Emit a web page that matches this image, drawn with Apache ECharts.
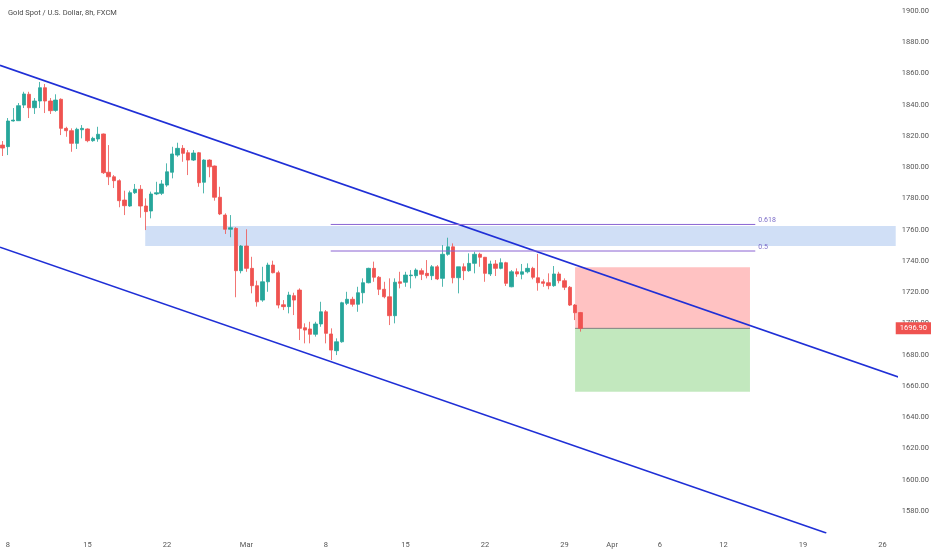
<!DOCTYPE html>
<html>
<head>
<meta charset="utf-8">
<script src="https://cdn.jsdelivr.net/npm/echarts@6/dist/echarts.min.js"></script>
<style>
html,body{margin:0;padding:0;background:#fff;}
#chart{width:932px;height:550px;}
</style>
</head>
<body>
<div id="chart"></div>
<script>
// ---- data ----
const titleText = 'Gold Spot / U.S. Dollar, 8h, FXCM';
const barCount = 169; // 8h bars incl. empty future space
const tickIndex = [1, 16, 31, 46, 61, 76, 91, 106, 115, 124, 136, 151, 166];
const tickText  = ['8', '15', '22', 'Mar', '8', '15', '22', '29', 'Apr', '6', '12', '19', '26'];
const priceTicks = [1580,1600,1620,1640,1660,1680,1700,1720,1740,1760,1780,1800,1820,1840,1860,1880,1900];

const opens = [1814.2,1813.2,1829.6,1829.8,1839.8,1846.7,1838.1,1842.4,1850.9,1842.4,
 1836.4,1843.5,1824.9,1823.4,1815.3,1824.0,1824.5,1817.0,1818.1,1821.3,
 1796.8,1793.9,1791.4,1779.0,1775.2,1783.7,1785.9,1775.2,1772.0,1782.9,
 1783.3,1788.6,1796.8,1807.8,1812.1,1809.3,1804.6,1809.3,1790.4,1804.6,
 1800.8,1780.8,1769.4,1760.3,1760.9,1733.8,1749.6,1735.3,1724.2,1715.0,
 1726.7,1737.4,1732.5,1712.0,1710.8,1717.8,1721.4,1697.3,1696.5,1693.1,
 1699.7,1707.5,1693.3,1682.6,1688.3,1712.9,1715.5,1712.3,1719.7,1726.1,
 1735.3,1729.6,1721.9,1717.1,1705.0,1726.7,1726.4,1730.6,1730.6,1733.8,
 1732.1,1730.6,1736.3,1728.9,1744.3,1749.1,1729.3,1736.3,1733.8,1738.5,
 1744.3,1742.4,1731.7,1738.1,1735.3,1738.9,1723.5,1733.1,1731.5,1733.1,
 1735.3,1729.3,1726.7,1726.1,1724.2,1731.7,1727.4,1723.2,1711.8,1707.0];
const closes = [1812.3,1829.6,1830.2,1839.4,1846.9,1838.1,1842.4,1850.9,1842.4,1836.2,
 1843.0,1824.9,1823.4,1815.3,1824.3,1824.9,1817.0,1818.5,1821.1,1796.5,
 1793.9,1791.4,1778.6,1775.4,1783.7,1785.9,1775.2,1771.6,1782.9,1783.7,
 1789.3,1797.1,1808.5,1812.1,1808.9,1804.6,1809.1,1790.1,1804.6,1800.3,
 1780.8,1770.1,1760.3,1761.3,1733.8,1749.6,1735.3,1724.2,1713.9,1726.7,
 1737.4,1732.5,1711.8,1710.8,1718.2,1715.0,1696.9,1695.8,1693.1,1699.7,
 1707.5,1693.7,1683.0,1688.3,1713.3,1715.5,1712.3,1719.7,1726.1,1735.3,
 1729.6,1721.9,1717.1,1705.0,1726.4,1725.7,1731.0,1731.0,1734.2,1731.5,
 1730.6,1736.3,1728.5,1744.3,1749.1,1729.3,1736.3,1733.8,1738.5,1744.3,
 1742.4,1732.1,1738.1,1735.3,1738.9,1725.7,1733.1,1731.7,1733.1,1735.3,
 1729.6,1726.1,1725.7,1724.2,1731.7,1727.4,1723.2,1711.8,1706.9,1696.9];
const highs = [1816.8,1831.5,1837.9,1841.1,1848.3,1848.3,1844.3,1854.6,1853.3,1844.3,
 1846.7,1844.1,1825.9,1824.9,1825.3,1827.0,1824.9,1819.5,1825.9,1821.6,
 1814.2,1795.0,1792.3,1785.0,1785.0,1789.3,1788.6,1780.1,1784.4,1790.7,
 1791.8,1802.5,1813.1,1815.7,1814.2,1811.0,1811.0,1809.8,1805.1,1805.1,
 1801.1,1787.5,1770.5,1769.4,1761.6,1750.2,1760.3,1742.7,1727.4,1736.3,
 1738.9,1740.2,1733.8,1715.0,1720.3,1719.7,1722.5,1700.1,1701.1,1701.1,
 1713.9,1708.6,1696.9,1690.5,1713.9,1720.3,1717.1,1723.5,1728.9,1735.7,
 1739.6,1730.4,1726.7,1728.9,1728.9,1733.1,1733.1,1734.2,1735.3,1735.3,
 1740.6,1737.4,1737.4,1750.2,1754.9,1751.3,1736.3,1738.5,1744.9,1745.9,
 1745.3,1742.6,1740.2,1740.6,1741.7,1739.5,1734.2,1735.3,1738.1,1738.5,
 1736.3,1744.5,1728.3,1732.1,1736.8,1733.1,1728.9,1724.0,1712.5,1707.4];
const lows = [1807.2,1807.8,1829.3,1829.6,1837.9,1831.5,1834.1,1837.9,1834.7,1834.1,
 1835.5,1820.6,1819.5,1809.9,1811.7,1818.5,1816.0,1816.3,1816.3,1795.7,
 1788.6,1786.7,1774.4,1769.4,1774.7,1782.9,1767.7,1759.8,1767.3,1782.2,
 1782.2,1787.5,1792.9,1806.7,1803.5,1795.0,1804.0,1787.5,1783.3,1793.6,
 1778.6,1769.4,1757.3,1755.2,1716.8,1732.1,1733.1,1719.3,1710.8,1713.9,
 1720.3,1732.1,1709.7,1708.6,1706.5,1705.4,1689.4,1687.3,1687.3,1691.6,
 1697.9,1687.3,1676.6,1679.8,1687.7,1711.8,1710.8,1707.5,1712.9,1725.7,
 1726.7,1718.2,1716.1,1699.0,1700.1,1722.5,1723.5,1722.5,1728.9,1727.8,
 1728.9,1727.8,1727.8,1723.5,1743.4,1725.7,1719.3,1727.8,1733.1,1732.1,
 1736.3,1726.7,1730.4,1730.4,1734.7,1724.0,1723.2,1729.9,1728.3,1732.1,
 1728.3,1721.0,1723.5,1721.9,1723.5,1725.7,1721.4,1711.2,1702.2,1694.8];

const lastPrice = 1696.90;
// drawings: [barIndex, price]
const upperChannel = [[-0.5, 1865.2], [169, 1665.7]];
const lowerChannel = [[-0.5, 1748.8], [155.4, 1565.9]];
const zoneBand = [[26.9, 1762.4], [168.5, 1749.6]];
const fib618 = [[61.9, 1763.4], [142.0, 1763.4]];
const fib50  = [[61.9, 1746.4], [142.0, 1746.4]];
const stopBox = [[108, 1736.0], [141, 1696.9]];
const targetBox = [[108, 1696.9], [141, 1656.3]];
const entryLine = [[108, 1696.9], [141, 1696.9]];

// ---- build ----
const categories = Array.from({length: barCount}, (_, i) => 'b' + i);
const candles = opens.map((o, i) => [o, closes[i], lows[i], highs[i]]);

const FONT = 'Roboto, "Liberation Sans", sans-serif';
const chart = echarts.init(document.getElementById('chart'));

function lineSeries(data, color, width, z, extra) {
  return Object.assign({
    type: 'line', xAxisIndex: 1, yAxisIndex: 0, data: data,
    symbol: 'none', silent: true, animation: false, z: z, clip: true,
    lineStyle: {color: color, width: width}
  }, extra || {});
}

chart.setOption({
  backgroundColor: '#ffffff',
  animation: false,
  title: {
    text: titleText, left: 3, top: 4,
    textStyle: {fontFamily: FONT, fontSize: 7.5, fontWeight: 'normal', color: '#4a4a4a'}
  },
  grid: {left: -2, right: 31.5, top: 0, bottom: 17, containLabel: false},
  xAxis: [{
    type: 'category', data: categories, boundaryGap: true,
    axisLine: {show: false}, axisTick: {show: false}, splitLine: {show: false},
    axisLabel: {
      interval: (idx) => tickIndex.indexOf(idx) >= 0,
      formatter: (v, idx) => { const k = tickIndex.indexOf(idx); return k >= 0 ? tickText[k] : ''; },
      color: '#555', fontSize: 7.5, fontFamily: FONT, margin: 8, hideOverlap: false
    }
  }, {
    type: 'value', min: -0.5, max: barCount - 0.5, show: false
  }],
  yAxis: [{
    type: 'value', position: 'right', min: 1565.92, max: 1907.04, scale: true,
    axisLine: {show: false}, axisTick: {show: false}, splitLine: {show: false},
    axisLabel: {
      customValues: priceTicks,
      formatter: (v) => v.toFixed(2),
      color: '#555', fontSize: 7.5, fontFamily: FONT, margin: 6
    }
  }],
  series: [
    // position boxes (below candles)
    lineSeries([[108, 1696.9]], 'rgba(0,0,0,0)', 0, 1, {
      markArea: {silent: true, data: [
        [{coord: stopBox[0], itemStyle: {color: 'rgba(255,110,110,0.42)'}}, {coord: stopBox[1]}],
        [{coord: targetBox[0], itemStyle: {color: 'rgba(80,190,70,0.35)'}}, {coord: targetBox[1]}]
      ]}
    }),
    lineSeries(entryLine, '#808080', 1, 1.5),
    {
      type: 'candlestick', name: 'XAUUSD', xAxisIndex: 0, yAxisIndex: 0,
      data: candles, barWidth: '72%', z: 2, silent: true,
      itemStyle: {color: '#26a69a', color0: '#ef5350', borderColor: '#26a69a', borderColor0: '#ef5350', borderWidth: 0.8}
    },
    // last price tag on the price scale
    lineSeries([[-0.5, lastPrice], [barCount - 0.5, lastPrice]], 'rgba(0,0,0,0)', 0, 20, {
      clip: false,
      endLabel: {
        show: true, formatter: lastPrice.toFixed(2), distance: 0,
        color: '#ffffff', backgroundColor: '#ef5350', padding: [2, 4, 2, 4],
        fontSize: 7.5, fontFamily: FONT
      }
    }),
    // blue zone band (over candles)
    lineSeries([[26.9, 1755]], 'rgba(0,0,0,0)', 0, 3, {
      markArea: {silent: true, data: [
        [{coord: zoneBand[0], itemStyle: {color: 'rgba(40,110,215,0.22)'}}, {coord: zoneBand[1]}]
      ]}
    }),
    lineSeries(fib618, '#8a63d2', 1, 6, {endLabel: {show: true, formatter: '0.618', color: '#7b6cc8', fontSize: 7, fontFamily: FONT, offset: [0, -4], distance: 3}}),
    lineSeries(fib50, '#8a63d2', 1, 6, {endLabel: {show: true, formatter: '0.5', color: '#7b6cc8', fontSize: 7, fontFamily: FONT, offset: [0, -4], distance: 3}}),
    lineSeries(upperChannel, '#1f2fd6', 1.6, 5),
    lineSeries(lowerChannel, '#1f2fd6', 1.6, 5)
  ]
});
</script>
</body>
</html>
